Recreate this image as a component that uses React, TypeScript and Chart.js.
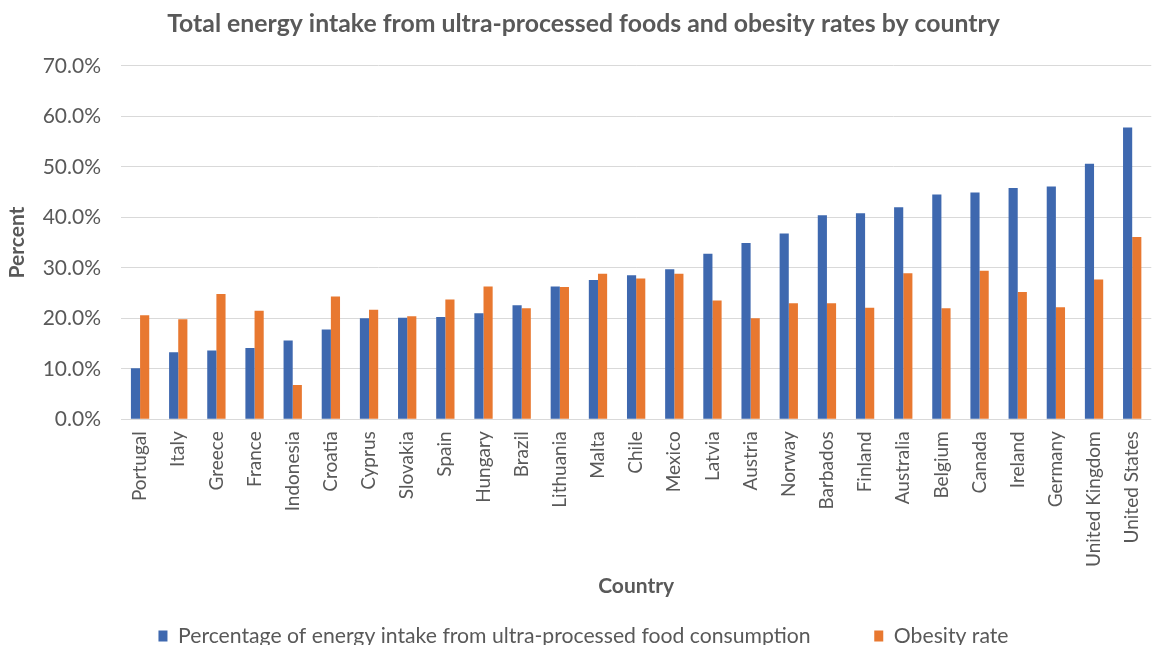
import React, { useEffect, useRef } from "react";
import { Chart, registerables } from "chart.js";

Chart.register(...registerables);

const countries = [
  "Portugal", "Italy", "Greece", "France", "Indonesia", "Croatia", "Cyprus", "Slovakia", "Spain",
  "Hungary", "Brazil", "Lithuania", "Malta", "Chile", "Mexico", "Latvia", "Austria", "Norway",
  "Barbados", "Finland", "Australia", "Belgium", "Canada", "Ireland", "Germany", "United Kingdom",
  "United States",
];

const upfEnergyShare = [
  10.1, 13.3, 13.6, 14.1, 15.6, 17.8, 20.0, 20.1, 20.25, 21.0, 22.6, 26.3, 27.6, 28.5, 29.7,
  32.8, 34.9, 36.8, 40.4, 40.8, 42.0, 44.5, 44.9, 45.8, 46.1, 50.6, 57.8,
];

const obesityRate = [
  20.6, 19.8, 24.8, 21.5, 6.8, 24.3, 21.7, 20.4, 23.7, 26.3, 22.0, 26.2, 28.8, 27.9, 28.8,
  23.5, 20.0, 23.0, 23.0, 22.1, 28.9, 22.0, 29.4, 25.2, 22.2, 27.7, 36.1,
];

const seriesLabels = [
  "Percentage of energy intake from ultra-processed food consumption",
  "Obesity rate",
];

const yTicks = [0, 10, 20, 30, 40, 50, 60, 70];

const FONT = "Lato, 'Open Sans', sans-serif";
const GREY = "#595959";

export default function App() {
  const ref = useRef<HTMLCanvasElement | null>(null);

  useEffect(() => {
    if (!ref.current) return;
    const chart = new Chart(ref.current, {
      type: "bar",
      data: {
        labels: countries,
        datasets: [
          {
            label: seriesLabels[0],
            data: upfEnergyShare,
            backgroundColor: "#3E68AF",
            borderWidth: 0,
            barPercentage: 1,
            categoryPercentage: 0.48,
          },
          {
            label: seriesLabels[1],
            data: obesityRate,
            backgroundColor: "#E87830",
            borderWidth: 0,
            barPercentage: 1,
            categoryPercentage: 0.48,
          },
        ],
      },
      options: {
        responsive: false,
        animation: false,
        layout: { padding: { left: 0, right: 0, top: 0, bottom: -11.5 } },
        plugins: {
          tooltip: { enabled: false },
          title: {
            display: true,
            text: "Total energy intake from ultra-processed foods and obesity rates by country",
            color: GREY,
            font: { family: FONT, size: 24.8, weight: "bold" },
            padding: { top: 9, bottom: 27 },
          },
          legend: {
            position: "bottom",
            labels: {
              color: GREY,
              font: { family: FONT, size: 21.2 },
              boxWidth: 9,
              boxHeight: 11,
              padding: 4,
              generateLabels: (c: any) => {
                const items = Chart.defaults.plugins.legend.labels.generateLabels(c);
                items.forEach((it: any, i: number) => {
                  if (i === 0) it.text = it.text + "\u00A0".repeat(11);
                  it.lineWidth = 0;
                });
                return items;
              },
            },
          },
        },
        scales: {
          x: {
            afterFit: (axis: any) => {
              axis.height = 202;
            },
            grid: { display: false, drawTicks: false },
            border: { display: false },
            ticks: {
              color: GREY,
              font: { family: FONT, size: 19 },
              minRotation: 90,
              maxRotation: 90,
              padding: 12,
              autoSkip: false,
            },
            title: {
              display: true,
              text: "Country",
              color: GREY,
              font: { family: FONT, size: 21, weight: "bold" },
              padding: { top: 4, bottom: 22 },
            },
          },
          y: {
            min: 0,
            max: 70,
            afterBuildTicks: (axis: any) => {
              axis.ticks = yTicks.map((v) => ({ value: v }));
            },
            afterFit: (axis: any) => {
              axis.width = 121;
            },
            grid: { color: "#D9D9D9", lineWidth: 1, drawTicks: false },
            border: { display: false },
            ticks: {
              color: GREY,
              font: { family: FONT, size: 21 },
              padding: 20,
              callback: (v: any) => Number(v).toFixed(1) + "%",
            },
            title: {
              display: true,
              text: "Percent",
              color: GREY,
              font: { family: FONT, size: 21, weight: "bold" },
              padding: { top: 5, bottom: 0 },
            },
          },
        },
      },
    });
    return () => chart.destroy();
  }, []);

  return (
    <div style={{ position: "fixed", left: 0, top: 0, width: 1167, height: 645, background: "#fff" }}>
      <canvas ref={ref} width={1167} height={645} style={{ width: 1167, height: 645, display: "block" }} />
    </div>
  );
}
